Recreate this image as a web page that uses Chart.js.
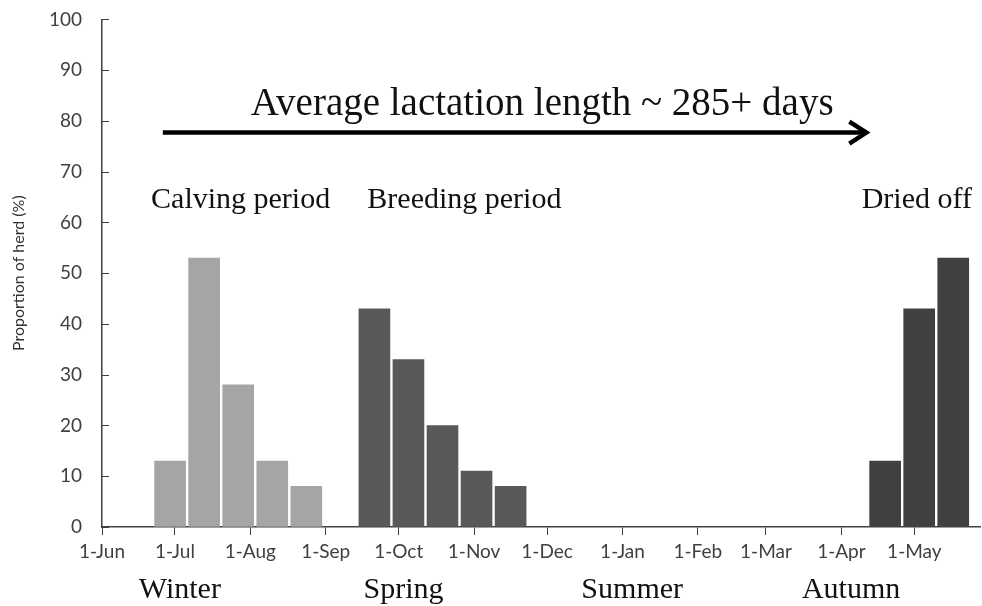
<!DOCTYPE html>
<html>
<head>
<meta charset="utf-8">
<script src="https://cdn.jsdelivr.net/npm/chart.js@4.4.1/dist/chart.umd.min.js"></script>
<style>
  html, body { margin: 0; padding: 0; background: #fff; }
  #wrap { width: 982px; height: 606px; }
</style>
</head>
<body>
<div id="wrap"><canvas id="herdChart" width="982" height="606"></canvas></div>
<script>
// days counted from 1 June
const monthTickDays = [0, 30, 61, 92, 122, 153, 183, 214, 245, 273, 304, 334];
const monthTickLabels = ['1-Jun', '1-Jul', '1-Aug', '1-Sep', '1-Oct', '1-Nov', '1-Dec', '1-Jan', '1-Feb', '1-Mar', '1-Apr', '1-May'];

// fortnightly bins (bin centre, days from 1 June)
const calvingDays = [28, 42, 56, 70, 84];
const calvingValues = [13, 53, 28, 13, 8];
const breedingDays = [112, 126, 140, 154, 168];
const breedingValues = [43, 33, 20, 11, 8];
const driedOffDays = [322, 336, 350];
const driedOffValues = [13, 43, 53];

const yTicks = [0, 10, 20, 30, 40, 50, 60, 70, 80, 90, 100];

const seasonLabels = ['Winter', 'Spring', 'Summer', 'Autumn'];
const seasonDays = [32, 124, 218, 308];

const periodLabels = ['Calving period', 'Breeding period', 'Dried off'];
const periodDays = [57, 149, 335];

const AXIS_COLOR = '#404040';
const SERIF = '"Liberation Serif", "Times New Roman", serif';

function toPoints(days, values) {
    return days.map((d, i) => ({ x: d, y: values[i] }));
}

// inner y ticks, serif annotations, lactation arrow, season names
const annotationPlugin = {
    id: 'annotations',
    afterDraw: function(chart) {
        const ctx = chart.ctx;
        const x = chart.scales.x;
        const y = chart.scales.y;
        const area = chart.chartArea;

        ctx.save();
        // y-axis tick marks pointing into the plot
        ctx.strokeStyle = AXIS_COLOR;
        ctx.lineWidth = 1;
        yTicks.forEach(v => {
            const py = Math.round(y.getPixelForValue(v)) + 0.5;
            ctx.beginPath();
            ctx.moveTo(area.left, py);
            ctx.lineTo(area.left + 7, py);
            ctx.stroke();
        });

        ctx.fillStyle = '#111';
        ctx.textAlign = 'center';
        ctx.textBaseline = 'alphabetic';

        // title over the arrow
        ctx.font = '39px ' + SERIF;
        ctx.fillText('Average lactation length ~ 285+ days', x.getPixelForValue(181), y.getPixelForValue(81.1));

        // arrow
        const ay = y.getPixelForValue(77.7);
        const ax0 = x.getPixelForValue(25);
        const ax1 = x.getPixelForValue(315.5);
        ctx.strokeStyle = '#000';
        ctx.lineWidth = 4.5;
        ctx.lineCap = 'butt';
        ctx.beginPath();
        ctx.moveTo(ax0, ay);
        ctx.lineTo(ax1 - 3, ay);
        ctx.stroke();
        ctx.lineJoin = 'miter';
        ctx.beginPath();
        ctx.moveTo(ax1 - 20, ay - 11);
        ctx.lineTo(ax1 - 3, ay);
        ctx.lineTo(ax1 - 20, ay + 11);
        ctx.stroke();

        // period labels
        ctx.font = '30px ' + SERIF;
        periodLabels.forEach((label, i) => {
            ctx.fillText(label, x.getPixelForValue(periodDays[i]), y.getPixelForValue(62.9));
        });

        // season labels under the axis
        ctx.font = '30px ' + SERIF;
        seasonLabels.forEach((label, i) => {
            ctx.fillText(label, x.getPixelForValue(seasonDays[i]), area.bottom + 71);
        });
        ctx.restore();
    }
};

const ctx = document.getElementById('herdChart').getContext('2d');
const herdChart = new Chart(ctx, {
    type: 'bar',
    data: {
        datasets: [
            {
                label: 'Calving',
                data: toPoints(calvingDays, calvingValues),
                backgroundColor: '#a5a5a5'
            },
            {
                label: 'Breeding',
                data: toPoints(breedingDays, breedingValues),
                backgroundColor: '#595959'
            },
            {
                label: 'Dried off',
                data: toPoints(driedOffDays, driedOffValues),
                backgroundColor: '#404040'
            }
        ]
    },
    options: {
        responsive: false,
        animation: false,
        grouped: false,
        barThickness: 31,
        layout: {
            padding: { left: 0, right: 2, top: 0, bottom: 0 }
        },
        plugins: {
            legend: { display: false },
            tooltip: { enabled: false }
        },
        scales: {
            x: {
                type: 'linear',
                min: 0,
                max: 361,
                offset: false,
                afterBuildTicks: function(scale) {
                    scale.ticks = monthTickDays.map(v => ({ value: v }));
                },
                afterFit: function(scale) {
                    scale.height = 79;
                },
                ticks: {
                    autoSkip: false,
                    maxRotation: 0,
                    padding: 5,
                    color: AXIS_COLOR,
                    font: { family: 'Lato', size: 19 },
                    callback: function(value) {
                        const idx = monthTickDays.indexOf(value);
                        return idx >= 0 ? monthTickLabels[idx] : '';
                    }
                },
                grid: {
                    offset: false,
                    drawOnChartArea: false,
                    drawTicks: true,
                    tickLength: 8,
                    color: AXIS_COLOR
                },
                border: { display: true, color: AXIS_COLOR, width: 1.5 }
            },
            y: {
                min: 0,
                max: 100,
                afterBuildTicks: function(scale) {
                    scale.ticks = yTicks.map(v => ({ value: v }));
                },
                afterFit: function(scale) {
                    scale.width = 102;
                },
                ticks: {
                    padding: 8,
                    color: AXIS_COLOR,
                    font: { family: 'Lato', size: 19 }
                },
                grid: {
                    drawOnChartArea: false,
                    drawTicks: true,
                    tickLength: 12,
                    tickColor: 'rgba(0,0,0,0)'
                },
                border: { display: true, color: AXIS_COLOR, width: 1.5 },
                title: {
                    display: true,
                    text: 'Proportion of herd (%)',
                    color: '#333',
                    font: { family: 'Lato', size: 16 },
                    padding: { top: 9, bottom: 0 }
                }
            }
        }
    },
    plugins: [annotationPlugin]
});
</script>
</body>
</html>
